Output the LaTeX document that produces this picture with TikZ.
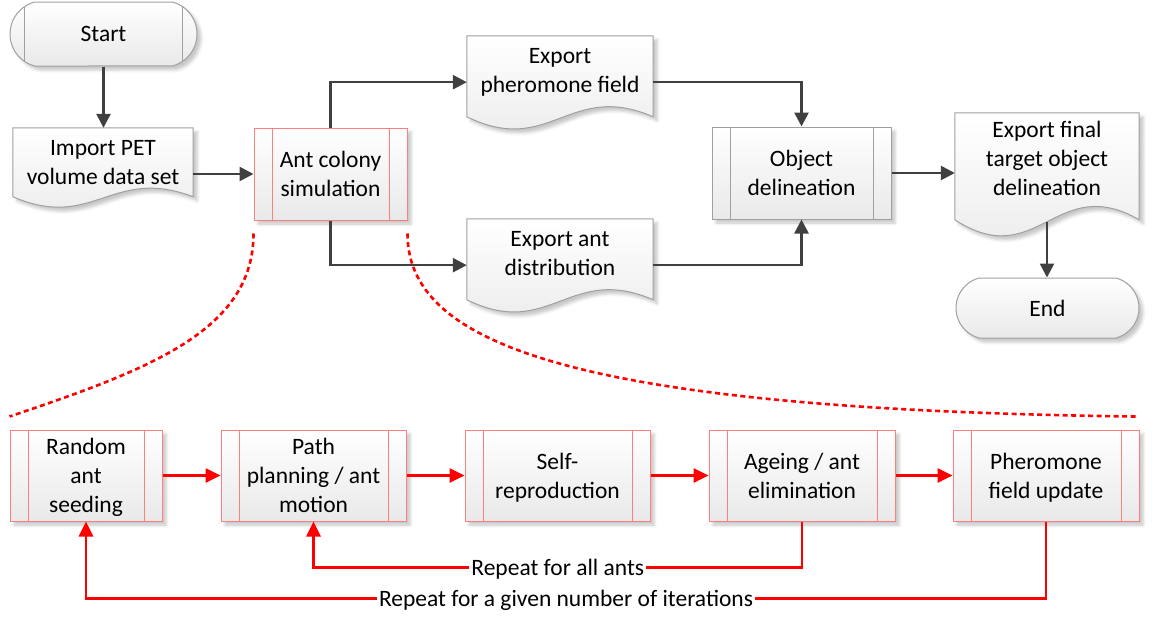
\documentclass[tikz,border=0pt]{standalone}
\usepackage{fontspec}
\setmainfont{Carlito}
\usetikzlibrary{arrows.meta,calc,shapes.misc,shadows.blur}

\definecolor{connector}{HTML}{404040}
\definecolor{boxgray}{HTML}{A0A0A0}
\definecolor{boxred}{HTML}{FF7F7F}
\definecolor{loopred}{HTML}{FF0000}
\definecolor{fillbottom}{HTML}{E9E9E9}

\tikzset{
  every node/.style={font=\fontsize{23.5pt}{29pt}\selectfont, text depth=0pt, align=center},
  boxfill/.style={top color=white, bottom color=fillbottom,
    blur shadow={shadow xshift=4pt, shadow yshift=-4pt, shadow blur radius=3pt, shadow opacity=22}},
  sidebars/.style={path picture={
    \draw[line width=1pt, #1]
      ([xshift=18pt]path picture bounding box.north west) -- ([xshift=18pt]path picture bounding box.south west)
      ([xshift=-18pt]path picture bounding box.north east) -- ([xshift=-18pt]path picture bounding box.south east);}},
  procbox/.style={rectangle, draw=#1, line width=1pt, boxfill, inner sep=0pt, sidebars=#1},
  termbox/.style={rounded rectangle, rounded rectangle arc length=150, draw=boxgray, line width=1pt, boxfill, inner sep=0pt},
  docholder/.style={rectangle, draw=none, inner sep=0pt},
  darkarrow/.style={draw=connector, line width=2.6pt, -{Triangle[length=14pt, width=14pt]}},
  redarrow/.style={draw=loopred, line width=2.6pt, -{Triangle[length=15pt, width=14pt]}},
  looplabel/.style={fill=white, inner xsep=2pt, inner ysep=0pt},
  zoomcurve/.style={draw=loopred, line width=2.6pt, dash pattern=on 5pt off 3.5pt},
}

% document shape: flat top, wavy bottom; #1 node, #2 width, #3 depth of the straight sides
\newcommand\docpath[3]{%
  \path[draw=boxgray, line width=1pt, boxfill]
    (#1.north west) -- (#1.north east) -- ($(#1.north east)+(0,#3)$)
    .. controls ($(#1.north west)+(0.55*#2,0.55*#3)$) and ($(#1.north west)+(0.45*#2,1.5*#3)$)
    .. ($(#1.north west)+(0,#3)$) -- cycle;}

\begin{document}
\begin{tikzpicture}[x=1pt, y=-1pt]
\useasboundingbox (0,0) rectangle (1154,616);

% ---- upper flow ----
\node[termbox, sidebars=boxgray, minimum width=187pt, minimum height=64pt] (start) at (103.5,34) {Start};

\node[docholder, minimum width=180pt, minimum height=78.7pt] (imp) at (103,167.35) {};
\docpath{imp}{180}{69}
\node (imp-t) at (103,162) {Import PET\\volume data set};

\node[procbox=boxred, minimum width=153pt, minimum height=92pt] (ant) at (330.5,174) {Ant colony\\simulation};

\node[docholder, minimum width=186pt, minimum height=92.34pt] (ph) at (560,82.17) {};
\docpath{ph}{186}{81}
\node (ph-t) at (560,70.4) {Export\\pheromone field};

\node[docholder, minimum width=186pt, minimum height=92.34pt] (ea) at (560,265.17) {};
\docpath{ea}{186}{81}
\node (ea-t) at (560,253.4) {Export ant\\distribution};

\node[procbox=boxgray, minimum width=179pt, minimum height=92pt] (obj) at (801.5,173) {Object\\delineation};

\node[docholder, minimum width=184pt, minimum height=121.98pt] (fin) at (1047,173.99) {};
\docpath{fin}{184}{107}
\node (fin-t) at (1047,158.5) {Export final\\target object\\delineation};

\node[termbox, minimum width=183pt, minimum height=60pt] (end) at (1047.5,308) {End};

% ---- ant colony sub-steps ----
\node[procbox=boxred, minimum width=152pt, minimum height=91pt] (seed) at (86,475.5) {Random\\ant\\seeding};
\node[procbox=boxred, minimum width=185pt, minimum height=91pt] (path) at (313.5,475.5) {Path\\planning / ant\\motion};
\node[procbox=boxred, minimum width=185pt, minimum height=91pt] (self) at (557.5,475.5) {Self-\\reproduction};
\node[procbox=boxred, minimum width=186pt, minimum height=91pt] (age) at (802,475.5) {Ageing / ant\\elimination};
\node[procbox=boxred, minimum width=186pt, minimum height=91pt] (pher) at (1046,475.5) {Pheromone\\field update};

% ---- main connectors ----
\draw[darkarrow] (start.south) -- (start.south |- imp.north);
\draw[darkarrow] (imp.east |- ant.west) -- (ant.west);
\draw[darkarrow] (ant.north) |- (ph.west);
\draw[darkarrow] (ant.south) |- (ea.west);
\draw[darkarrow] (ph.east) -| (obj.north);
\draw[darkarrow] (ea.east) -| (obj.south);
\draw[darkarrow] (obj.east) -- (obj.east -| fin.west);
\coordinate (fin-out) at ($(fin.north)+(0,109)$);
\draw[darkarrow] (fin-out) -- (fin-out |- end.north);

% ---- sub-step connectors and loops ----
\draw[redarrow] (seed.east) -- (path.west);
\draw[redarrow] (path.east) -- (self.west);
\draw[redarrow] (self.east) -- (age.west);
\draw[redarrow] (age.east) -- (pher.west);
\draw[redarrow] (age.south) -- ++(0,46) -| node[pos=0.25, looplabel] (rep-ants) {Repeat for all ants} (path.south);
\draw[redarrow] (pher.south) -- ++(0,77) -| node[pos=0.25, looplabel] (rep-iter) {Repeat for a given number of iterations} (seed.south);

% ---- zoom-out lines from the simulation box ----
\coordinate (zl-a) at ($(ant.south west)+(0,13)$);
\coordinate (zl-b) at ($(seed.north west)+(0,-13)$);
\coordinate (zr-a) at ($(ant.south east)+(0,13)$);
\coordinate (zr-b) at ($(pher.north east)+(-4,-13)$);
\draw[zoomcurve] (zl-a) .. controls ($(zl-a)+(0,97)$) and ($(zl-b)+(140,-47)$) .. (zl-b);
\draw[zoomcurve] (zr-a) .. controls ($(zr-a)+(0,107)$) and ($(zr-b)+(-575,-7)$) .. (zr-b);
\end{tikzpicture}
\end{document}
